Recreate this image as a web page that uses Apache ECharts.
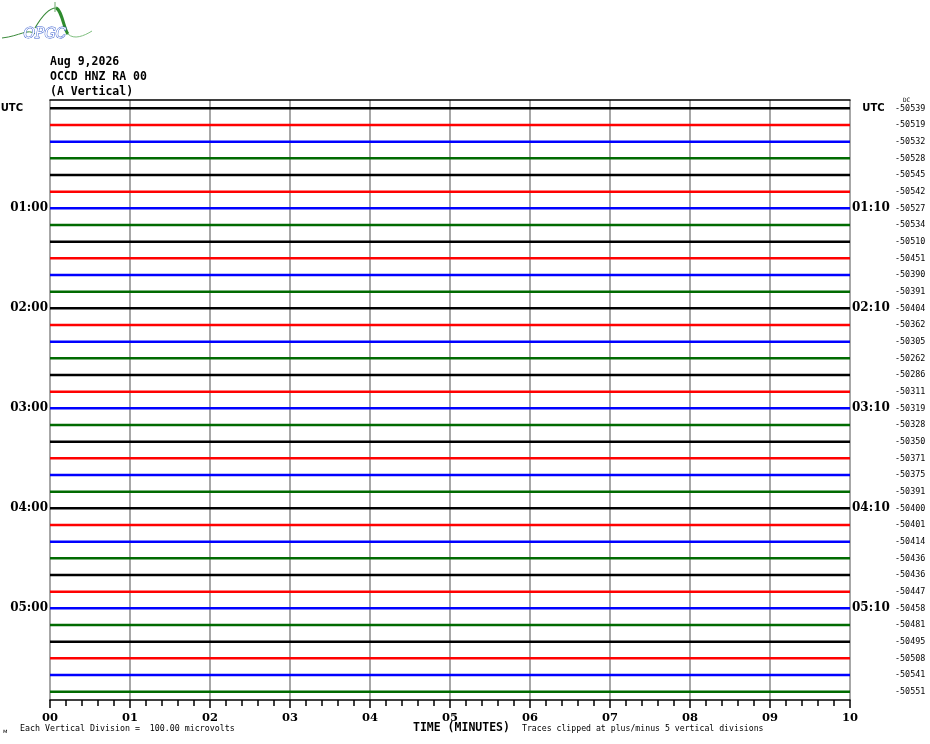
<!DOCTYPE html>
<html>
<head>
<meta charset="utf-8">
<script src="https://cdn.jsdelivr.net/npm/echarts@6/dist/echarts.min.js"></script>
<style>html,body{margin:0;padding:0;background:#fff}#c{width:930px;height:744px}</style>
</head>
<body>
<div id="c"></div>
<script>
const titleLines = ['Aug 9,2026', 'OCCD HNZ RA 00', '(A Vertical)'];
const minuteTicks = ['00','01','02','03','04','05','06','07','08','09','10'];
const traceColors = ['#000000', '#ff0000', '#0000ff', '#006a00'];
const leftTimes = ['UTC','','','','','','01:00','','','','','','02:00','','','','','','03:00','','','','','','04:00','','','','','','05:00','','','','',''];
const rightTimes = ['UTC','','','','','','01:10','','','','','','02:10','','','','','','03:10','','','','','','04:10','','','','','','05:10','','','','',''];
const dcValues = [-50539,-50519,-50532,-50528,-50545,-50542,-50527,-50534,-50510,-50451,-50390,-50391,
  -50404,-50362,-50305,-50262,-50286,-50311,-50319,-50328,-50350,-50371,-50375,-50391,
  -50400,-50401,-50414,-50436,-50436,-50447,-50458,-50481,-50495,-50508,-50541,-50551];
const traceStart = 0, traceEnd = 10;

const series = dcValues.map((v, i) => ({
  type: 'line',
  xAxisIndex: 0,
  yAxisIndex: 0,
  silent: true,
  symbol: 'none',
  animation: false,
  data: [[traceStart, i], [traceEnd, i]],
  lineStyle: { color: traceColors[i % 4], width: 2.5 }
}));

const chart = echarts.init(document.getElementById('c'), null, { renderer: 'canvas' });
const timeFont = 'DejaVu Serif';
chart.setOption({
  animation: false,
  backgroundColor: '#ffffff',
  grid: { left: 50, right: 80, top: 100, bottom: 44, containLabel: false, outerBoundsMode: 'none' },
  xAxis: [{
    type: 'value', min: 0, max: 10, interval: 1, position: 'bottom',
    axisLine: { show: true, onZero: false, lineStyle: { color: '#000', width: 1.5 } },
    axisTick: { show: true, length: 8, lineStyle: { color: '#000', width: 1.5 } },
    minorTick: { show: true, splitNumber: 5, length: 6, lineStyle: { color: '#000', width: 1.5 } },
    splitLine: { show: true, lineStyle: { color: '#8a8a8a', width: 1.5 } },
    axisLabel: { margin: 12, color: '#000', fontFamily: timeFont, fontWeight: 'bold', fontSize: 11.5,
      formatter: (v) => minuteTicks[Math.round(v)] }
  }, {
    type: 'value', min: 0, max: 10, position: 'top',
    axisLine: { show: true, onZero: false, lineStyle: { color: '#000', width: 1.5 } },
    axisTick: { show: false }, minorTick: { show: false }, axisLabel: { show: false }, splitLine: { show: false }
  }],
  yAxis: [{
    type: 'value', min: -0.5, max: 35.5, inverse: true, show: false
  }, {
    type: 'category', position: 'left', inverse: true, data: leftTimes, boundaryGap: true,
    axisLine: { show: false }, axisTick: { show: false }, splitLine: { show: false },
    axisLabel: { interval: 0, margin: 2, color: '#000',
      formatter: (v) => v === 'UTC' ? '{u|UTC}' : (v ? '{t|' + v + '}' : ''),
      rich: {
        u: { fontFamily: 'DejaVu Sans', fontWeight: 'bold', fontSize: 10, color: '#000', padding: [0, 25, 0, 0] },
        t: { fontFamily: timeFont, fontWeight: 'bold', fontSize: 12, color: '#000' }
      } }
  }, {
    type: 'category', position: 'right', inverse: true, data: rightTimes, boundaryGap: true,
    axisLine: { show: false }, axisTick: { show: false }, splitLine: { show: false },
    axisLabel: { interval: 0, margin: 2, color: '#000', align: 'left',
      formatter: (v, idx) => {
        const t = v === 'UTC' ? '{u|UTC}' : (v ? '{t|' + v + '}' : '{e|}');
        return t + '{n|' + dcValues[idx] + '}';
      },
      rich: {
        u: { fontFamily: 'DejaVu Sans', fontWeight: 'bold', fontSize: 10, color: '#000', width: 43, align: 'center' },
        t: { fontFamily: timeFont, fontWeight: 'bold', fontSize: 12, color: '#000', width: 43, align: 'left' },
        e: { width: 43 },
        n: { fontFamily: 'DejaVu Sans Mono', fontSize: 8.4, color: '#000' }
      } }
  }],
  graphic: [
    { type: 'bezierCurve', silent: true,
      shape: { x1: 2, y1: 38, x2: 35, y2: 34, cpx1: 20, cpy1: 36, cpx2: 28, cpy2: 28 },
      style: { stroke: '#3a8a3a', lineWidth: 1, fill: null } },
    { type: 'bezierCurve', silent: true,
      shape: { x1: 35, y1: 28, x2: 56, y2: 8, cpx1: 42, cpy1: 16, cpx2: 50, cpy2: 8 },
      style: { stroke: '#3a8a3a', lineWidth: 1.2, fill: null } },
    { type: 'bezierCurve', silent: true,
      shape: { x1: 56, y1: 8, x2: 68, y2: 34, cpx1: 62, cpy1: 10, cpx2: 64, cpy2: 30 },
      style: { stroke: '#2e8b2e', lineWidth: 3, fill: null } },
    { type: 'bezierCurve', silent: true,
      shape: { x1: 68, y1: 34, x2: 92, y2: 31, cpx1: 74, cpy1: 40, cpx2: 84, cpy2: 36 },
      style: { stroke: '#7fbf7f', lineWidth: 1, fill: null } },
    { type: 'line', silent: true, shape: { x1: 55, y1: 2, x2: 55, y2: 12 },
      style: { stroke: '#6aa86a', lineWidth: 1 } },
    { type: 'text', silent: true, left: 23, top: 27,
      style: { text: 'OPGC', fontFamily: 'DejaVu Serif', fontStyle: 'italic', fontSize: 14,
        fill: '#ffffff', stroke: '#3a5fd0', lineWidth: 1 } },
    { type: 'text', silent: true, left: 50, top: 55,
      style: { text: titleLines.join('\n'), fontFamily: 'DejaVu Sans Mono', fontWeight: 'bold', fontSize: 11.5,
        lineHeight: 15, fill: '#000' } },
    { type: 'text', silent: true, left: 903, top: 97,
      style: { text: 'DC', fontFamily: 'DejaVu Sans Mono', fontSize: 6, fill: '#000' } },
    { type: 'text', silent: true, left: 3, top: 728,
      style: { text: 'м', fontFamily: 'DejaVu Sans', fontSize: 6, fill: '#000' } },
    { type: 'text', silent: true, left: 20, top: 725,
      style: { text: 'Each Vertical Division =  100.00 microvolts', fontFamily: 'DejaVu Sans Mono', fontSize: 8.3, fill: '#000' } },
    { type: 'text', silent: true, left: 413, top: 722,
      style: { text: 'TIME (MINUTES)', fontFamily: 'DejaVu Sans Mono', fontWeight: 'bold', fontSize: 11.5, fill: '#000' } },
    { type: 'text', silent: true, left: 522, top: 725,
      style: { text: 'Traces clipped at plus/minus 5 vertical divisions', fontFamily: 'DejaVu Sans Mono', fontSize: 8.2, fill: '#000' } }
  ],
  series: series
});
</script>
</body>
</html>
